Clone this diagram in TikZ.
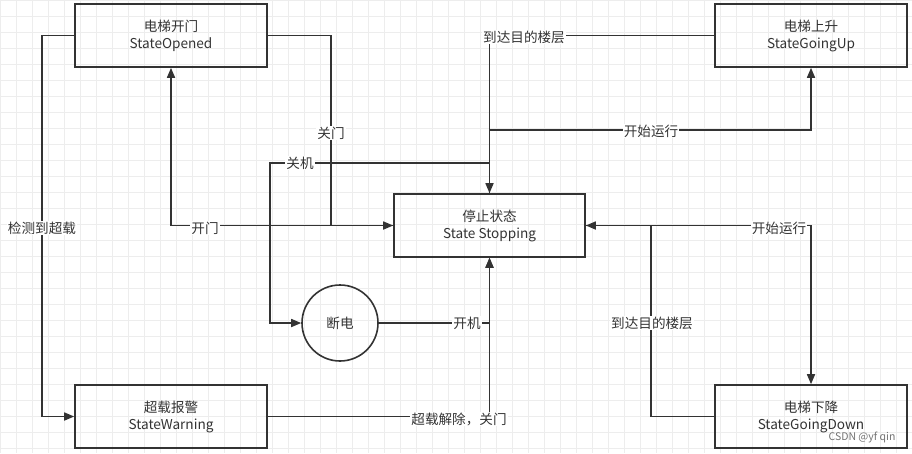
\documentclass[tikz,border=0pt]{standalone}
\usepackage{fontspec}
\setmainfont{Noto Sans CJK SC}
\usetikzlibrary{arrows.meta}
\definecolor{ln}{HTML}{333333}
\definecolor{tx}{HTML}{333333}
\tikzset{
  statebox/.style={draw=ln, line width=1.6pt, minimum width=192pt, minimum height=63pt, align=center, text=tx, font=\fontsize{13.6pt}{17pt}\selectfont},
  stopcircle/.style={draw=ln, line width=1.6pt, circle, minimum size=76pt, inner sep=0pt, text=tx, font=\fontsize{13.6pt}{17pt}\selectfont},
  arr/.style={draw=ln, line width=1.6pt, -{Triangle[length=10pt,width=8pt]}},
  conn/.style={draw=ln, line width=1.6pt},
  lbl/.style={fill=white, inner sep=1pt, text=tx, font=\fontsize{13.6pt}{15pt}\selectfont},
}
\begin{document}
\begin{tikzpicture}[x=1pt,y=-1pt]
\useasboundingbox (0,0) rectangle (912,453);
\fill[white] (0,0) rectangle (912,453);
\draw[black!7, line width=0.5pt, step=16pt] (0,0) grid (912,453);

% states
\node[statebox] (op) at (171,35.5) {电梯开门\\StateOpened};
\node[statebox] (up) at (811,35.5) {电梯上升\\StateGoingUp};
\node[statebox, minimum width=191pt] (st) at (489.5,225.5) {停止状态\\State Stopping};
\node[statebox] (warn) at (171,416.5) {超载报警\\StateWarning};
\node[statebox] (down) at (811,416.5) {电梯下降\\StateGoingDown};
\node[stopcircle] (off) at (340,323) {断电};

% bend points
\coordinate (c1) at (42,35.5);
\coordinate (c2) at (331,225.5);
\coordinate (c5) at (489.5,130);
\coordinate (c6) at (489.5,163);
\coordinate (c6b) at (270,163);
\coordinate (c10) at (651,416.5);

% connectors
\draw[arr] (op.west) -- (c1) |- (warn.west);
\draw[arr] (op.east) -| (c2) -- (st.west);
\draw[arr] (st.west) -| (op.south);
\draw[arr] (up.west) -| (st.north);
\draw[arr] (st.north) -- (c5) -| (up.south);
\draw[arr] (c6) -- (c6b) |- (off.west);
\draw[arr] (off.east) -| (st.south);
\draw[arr] (warn.east) -| (st.south);
\draw[arr] (st.east) -| (down.north);
\draw[arr] (down.west) -- (c10) |- (st.east);

% labels
\node[lbl] (l1) at (42,228) {检测到超载};
\node[lbl] (l2) at (331,133) {关门};
\node[lbl] (l3) at (205,228) {开门};
\node[lbl] (l4) at (524,37) {到达目的楼层};
\node[lbl] (l5) at (651,131) {开始运行};
\node[lbl] (l6) at (300,163) {关机};
\node[lbl] (l7) at (467,323) {开机};
\node[lbl] (l8) at (459,419) {超载解除，关门};
\node[lbl] (l9) at (779,228) {开始运行};
\node[lbl] (l10) at (652,323) {到达目的楼层};

% watermark
\node[text=black!55, font=\fontsize{10.5pt}{12pt}\selectfont, inner sep=0pt] (wm) at (862,437) {CSDN @yf qin};
\end{tikzpicture}
\end{document}
